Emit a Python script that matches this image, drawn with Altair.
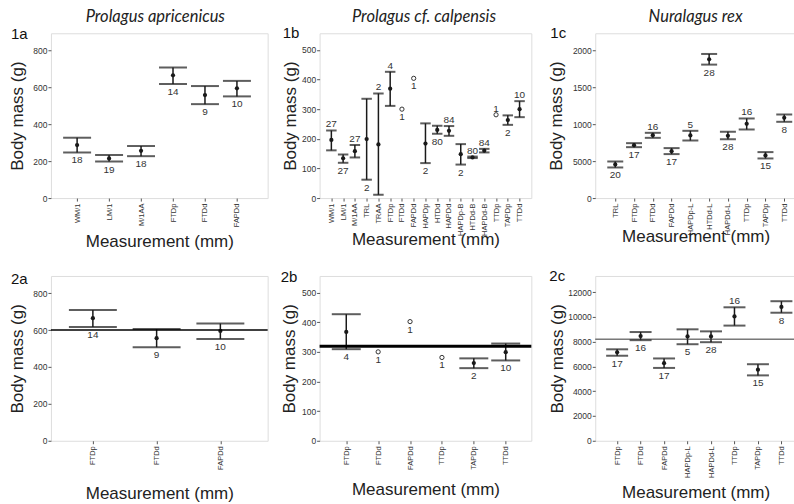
import altair as alt
import pandas as pd

SANS = "Liberation Sans, Arial, sans-serif"
ITAL = "Lato, Open Sans, sans-serif"

# ---------------- data ----------------
p1a_cats = ["WM/1", "LM/1", "M/1AA", "FTDp", "FTDd", "FAPDd"]
p1a_mean = [287, 215, 256, 665, 558, 595]
p1a_lo = [247, 198, 227, 618, 509, 551]
p1a_hi = [327, 233, 282, 708, 607, 635]
p1a_n = [18, 19, 18, 14, 9, 10]
p1a_pos = ["below", "below", "below", "below", "below", "below"]

p1b_cats = ["WM/1", "LM/1", "M/1AA", "TRL", "TRAA", "FTDp", "FTDd", "FAPDd", "HAPDp",
            "HTDd", "HAPDd", "HAPDp-B", "HTDd-B", "HAPDd-B", "TTDp", "TAPDp", "TTDd"]
p1b_mean = [196, 134, 158, 199, 181, 369, 300, 404, 184, 230, 227, 148, 137, 160, 281, 263, 300]
p1b_lo = [161, 119, 137, 62, 11, 311, None, None, 118, 217, 210, 113, 135, 154, None, 247, 273]
p1b_hi = [228, 147, 179, 335, 353, 426, None, None, 252, 244, 243, 182, 140, 166, None, 279, 327]
p1b_n = [27, 27, 27, 2, 2, 4, 1, 1, 2, 80, 84, 2, 80, 84, 1, 2, 10]
p1b_pos = ["above", "below", "above", "below", "above", "above", "below", "below", "below",
           "below", "above", "below", "above", "above", "above", "below", "above"]

p1c_cats = ["TRL", "FTDp", "FTDd", "FAPDd", "HAPDp-L", "HTDd-L", "HAPDd-L", "TTDp", "TAPDp", "TTDd"]
p1c_mean = [455, 716, 851, 635, 847, 1878, 842, 1005, 577, 1086]
p1c_lo = [414, 689, 815, 595, 779, 1806, 797, 928, 536, 1032]
p1c_hi = [495, 743, 883, 676, 910, 1950, 896, 1077, 622, 1131]
p1c_n = [20, 17, 16, 17, 5, 28, 28, 16, 15, 8]
p1c_pos = ["below", "below", "above", "below", "above", "below", "below", "above", "below", "below"]

p2a_cats = ["FTDp", "FTDd", "FAPDd"]
p2a_mean = [664, 556, 595]
p2a_lo = [616, 507, 551]
p2a_hi = [709, 605, 635]
p2a_n = [14, 9, 10]
p2a_pos = ["below", "below", "below"]
p2a_ref = [600]

p2b_cats = ["FTDp", "FTDd", "FAPDd", "TTDp", "TAPDp", "TTDd"]
p2b_mean = [367, 300, 402, 281, 262, 299]
p2b_lo = [309, None, None, None, 245, 271]
p2b_hi = [427, None, None, None, 278, 328]
p2b_n = [4, 1, 1, 1, 2, 10]
p2b_pos = ["below", "below", "below", "below", "below", "below"]
p2b_ref = [319]

p2c_cats = ["FTDp", "FTDd", "FAPDd", "HAPDp-L", "HAPDd-L", "TTDp", "TAPDp", "TTDd"]
p2c_mean = [7135, 8447, 6260, 8420, 8420, 10033, 5741, 10798]
p2c_lo = [6862, 8119, 5878, 7791, 7955, 9295, 5276, 10334]
p2c_hi = [7381, 8775, 6643, 8994, 8830, 10771, 6178, 11263]
p2c_n = [17, 16, 17, 5, 28, 16, 15, 8]
p2c_pos = ["below", "below", "below", "below", "below", "above", "below", "below"]
p2c_ref = [8200]

titles = ["Prolagus apricenicus", "Prolagus cf. calpensis", "Nuralagus rex"]
tags = ["1a", "1b", "1c", "2a", "2b", "2c"]

H = 165
INK = "#1a1a1a"


def panel(cats, mean, lo, hi, n, pos, *, ymax, yvals, width, pad, align, cap,
          yext, xext, tag, tag_x, tag_y, title=None, ref=None, ref_w=1.5,
          ref_color="#000", label_expr=None):
    lo_ = [v if v is not None else float("nan") for v in lo]
    hi_ = [v if v is not None else float("nan") for v in hi]
    anchor = []
    for m, l, h, p in zip(mean, lo, hi, pos):
        if l is None:
            anchor.append(m)
        else:
            anchor.append(l if p == "below" else h)
    df = pd.DataFrame({"cat": cats, "mean": mean, "lo": lo_, "hi": hi_,
                       "n": [str(v) for v in n], "pos": pos, "anchor": anchor,
                       "single": [l is None for l in lo]})

    xaxis = alt.Axis(title="Measurement (mm)", labelAngle=-90, labelFont=SANS,
                     labelFontSize=7.5, labelColor="#333", labelPadding=2, tickSize=3,
                     tickColor="#555", domain=False, grid=False, titleFont=SANS,
                     titleFontSize=17, titleFontWeight="normal", titleColor="#222",
                     titlePadding=0, minExtent=xext, maxExtent=xext)
    ykw = dict(title="Body mass (g)", values=yvals, format="d", labelFont=SANS,
               labelFontSize=8.5, labelColor="#333", labelPadding=1, tickSize=3,
               tickColor="#555", domain=False, grid=False, titleFont=SANS,
               titleFontSize=17, titleFontWeight="normal", titleColor="#222",
               titlePadding=0, minExtent=yext, maxExtent=yext)
    if label_expr:
        ykw["labelExpr"] = label_expr
    yaxis = alt.Axis(**ykw)
    xs = alt.Scale(type="point", padding=pad, align=align)
    ys = alt.Scale(domain=[0, ymax], nice=False, zero=False)
    X = alt.X("cat:N", sort=cats, scale=xs, axis=xaxis)

    def Y(f):
        return alt.Y(f, type="quantitative", scale=ys, axis=yaxis)

    base = alt.Chart(df)
    bars = base.transform_filter("!datum.single")
    layers = [
        bars.mark_rule(strokeWidth=1.5, color=INK).encode(x=X, y=Y("lo"), y2=alt.Y2("hi")),
        bars.mark_tick(size=cap, thickness=2, color=INK, orient="horizontal").encode(x=X, y=Y("lo")),
        bars.mark_tick(size=cap, thickness=2, color=INK, orient="horizontal").encode(x=X, y=Y("hi")),
        bars.mark_circle(size=18, color=INK, opacity=1).encode(x=X, y=Y("mean")),
        base.transform_filter("datum.single").mark_point(shape="circle", filled=False, size=18,
                                                          strokeWidth=1, color="#333", opacity=1
                                                          ).encode(x=X, y=Y("mean")),
        base.transform_filter("datum.pos == 'below'").mark_text(
            baseline="top", dy=3, font=SANS, fontSize=10, color="#333"
        ).encode(x=X, y=Y("anchor"), text="n:N"),
        base.transform_filter("datum.pos == 'above'").mark_text(
            baseline="alphabetic", dy=-3, font=SANS, fontSize=10, color="#333"
        ).encode(x=X, y=Y("anchor"), text="n:N"),
    ]
    if ref is not None:
        layers.append(alt.Chart(pd.DataFrame({"ref": ref})).mark_rule(
            color=ref_color, strokeWidth=ref_w).encode(y=Y("ref")))
    layers.append(alt.Chart(pd.DataFrame({"t": [tag]})).mark_text(
        align="left", baseline="alphabetic", font=SANS, fontSize=15, color="#111"
    ).encode(text="t:N", x=alt.value(tag_x), y=alt.value(tag_y)))
    if title is not None:
        layers.append(alt.Chart(pd.DataFrame({"t": [title]})).mark_text(
            align="center", baseline="alphabetic", font=ITAL, fontStyle="italic",
            fontSize=16.5, color="#222"
        ).encode(text="t:N", x=alt.value(min(width, 209) / 2), y=alt.value(-11)))
    return alt.layer(*layers).properties(width=width, height=H)


def spacer(w):
    return alt.Chart(pd.DataFrame({"v": [0]})).mark_point(opacity=0).encode(
        x=alt.X("v:Q", axis=None), y=alt.Y("v:Q", axis=None)
    ).properties(width=w, height=H, view=alt.ViewBackground(stroke="transparent"))


c1a = panel(p1a_cats, p1a_mean, p1a_lo, p1a_hi, p1a_n, p1a_pos, ymax=893,
            yvals=[0, 200, 400, 600, 800], width=217, pad=0.89, align=0.46, cap=28,
            yext=24, xext=35, tag=tags[0], tag_x=-40, tag_y=6, title=titles[0])
c1b = panel(p1b_cats, p1b_mean, p1b_lo, p1b_hi, p1b_n, p1b_pos, ymax=556,
            yvals=[0, 100, 200, 300, 400, 500], width=212, pad=1.42, align=0.5, cap=10.5,
            yext=20, xext=33, tag=tags[1], tag_x=-37, tag_y=5, title=titles[1])
c1c = panel(p1c_cats, p1c_mean, p1c_lo, p1c_hi, p1c_n, p1c_pos, ymax=2230,
            yvals=[0, 500, 1000, 1500, 2000], width=201, pad=0.846, align=0.63, cap=16,
            yext=30, xext=30, tag=tags[2], tag_x=-45, tag_y=5, title=titles[2],
            label_expr="datum.value == 500 ? '5000' : datum.label")
c2a = panel(p2a_cats, p2a_mean, p2a_lo, p2a_hi, p2a_n, p2a_pos, ymax=893,
            yvals=[0, 200, 400, 600, 800], width=217, pad=0.70, align=0.47, cap=48,
            yext=24, xext=45, tag=tags[3], tag_x=-40, tag_y=8, ref=p2a_ref, ref_w=1.5)
c2b = panel(p2b_cats, p2b_mean, p2b_lo, p2b_hi, p2b_n, p2b_pos, ymax=556,
            yvals=[0, 100, 200, 300, 400, 500], width=212, pad=0.82, align=0.51, cap=29,
            yext=21, xext=41, tag=tags[4], tag_x=-39, tag_y=6, ref=p2b_ref, ref_w=3)
c2c = panel(p2c_cats, p2c_mean, p2c_lo, p2c_hi, p2c_n, p2c_pos, ymax=13300,
            yvals=[0, 2000, 4000, 6000, 8000, 10000, 12000], width=201, pad=0.777, align=0.60,
            cap=22, yext=29, xext=44, tag=tags[5], tag_x=-46, tag_y=5, ref=p2c_ref,
            ref_w=1, ref_color="#333")

chart = alt.concat(
    c1a, spacer(52), c1b, spacer(64), c1c,
    c2a, spacer(52), c2b, spacer(64), c2c,
    columns=5, spacing={"row": 78, "column": 0}, bounds="flush", align="each",
).properties(
    padding={"left": 8, "top": 8, "right": -3, "bottom": 0}
).configure_view(stroke="#8a8a8a", strokeWidth=1.3).configure(background="white")

chart.save("out.html", embed_options={"renderer": "svg", "actions": False})
